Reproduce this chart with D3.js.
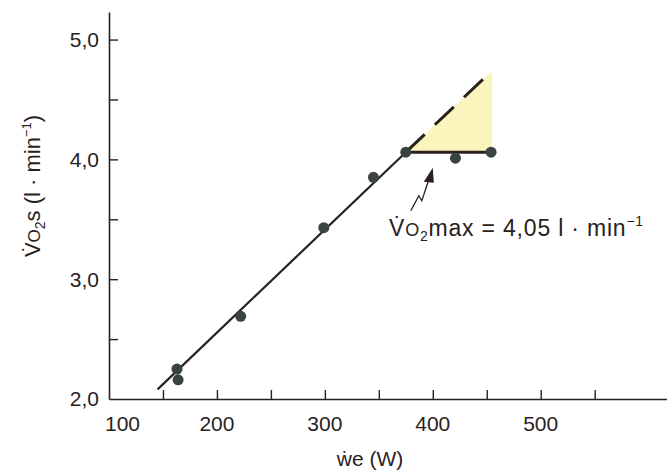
<!DOCTYPE html>
<html>
<head>
<meta charset="utf-8">
<script src="https://cdn.jsdelivr.net/npm/d3@7"></script>
<style>
  body { margin: 0; background: #fff; }
  svg { display: block; font-family: "Liberation Sans", Arial, sans-serif; }
</style>
</head>
<body>
<div id="chart"></div>
<script>
// measured points (work rate W, VO2 l/min)
const workRate = [163, 164, 222, 299, 345, 375, 421, 454];
const vo2 = [2.25, 2.16, 2.69, 3.43, 3.85, 4.06, 4.01, 4.06];

// regression line: solid part, then dashed extrapolation
const fitSolid = [[145, 2.08], [375, 4.06]];
const fitDashed = [[375, 4.06], [455, 4.74]];
const plateau = [[375, 4.06], [454, 4.06]];

const xMajor = [100, 200, 300, 400, 500];
const xTicks = [150, 200, 250, 300, 350, 400, 450, 500, 550];
const yMajor = [2.0, 3.0, 4.0, 5.0];
const yTicks = [2.5, 3.0, 3.5, 4.0, 4.5, 5.0];

const width = 667, height = 476;
const ink = '#2a211d';

const svg = d3.select('#chart').append('svg')
  .attr('width', width).attr('height', height);

const x = d3.scaleLinear().domain([100, 617]).range([109, 667]);
const y = d3.scaleLinear().domain([2, 5.23]).range([399, 12]);

// yellow area between extrapolation and plateau
svg.append('path')
  .attr('d', d3.line().x(d => x(d[0])).y(d => y(d[1]))([
    [375, 4.06], [455, 4.74], [455, 4.06]
  ]))
  .attr('fill', '#f9f5bd');

// axes
svg.append('g')
  .attr('transform', `translate(0,${y(2)})`)
  .call(d3.axisBottom(x).tickValues(xTicks).tickSizeInner(-9).tickSizeOuter(0).tickFormat(''));
svg.append('g')
  .attr('transform', `translate(${x(100)},0)`)
  .call(d3.axisLeft(y).tickValues(yTicks).tickSizeInner(-9).tickSizeOuter(0).tickFormat(''));
svg.selectAll('.domain').attr('stroke', ink).attr('stroke-width', 1.6);
svg.selectAll('.tick line').attr('stroke', ink).attr('stroke-width', 1.4);

// tick labels
svg.append('g').selectAll('text')
  .data(xMajor).join('text')
  .attr('x', d => d === 100 ? x(d) - 4 : x(d))
  .attr('y', 431)
  .attr('text-anchor', d => d === 100 ? 'start' : 'middle')
  .attr('font-size', 21).attr('fill', ink)
  .text(d => d);

svg.append('g').selectAll('text')
  .data(yMajor).join('text')
  .attr('x', 99)
  .attr('y', d => y(d))
  .attr('dy', '0.35em')
  .attr('text-anchor', 'end')
  .attr('font-size', 21).attr('fill', ink)
  .text(d => d.toFixed(1).replace('.', ','));

// axis titles
svg.append('text')
  .attr('x', 370).attr('y', 466)
  .attr('text-anchor', 'middle')
  .attr('font-size', 21).attr('fill', ink)
  .text('w\u0307e (W)');

const yt = svg.append('text')
  .attr('transform', 'translate(40,186) rotate(-90)')
  .attr('text-anchor', 'middle')
  .attr('font-size', 22).attr('fill', ink);
yt.append('tspan').text('V\u0307');
yt.append('tspan').attr('font-size', 17).text('O');
yt.append('tspan').attr('font-size', 14).attr('dy', 5).text('2');
yt.append('tspan').attr('dy', -5).text('s (l · min');
yt.append('tspan').attr('font-size', 13).attr('dy', -9).text('\u22121');
yt.append('tspan').attr('dy', 9).text(')');

// fitted line
const line = d3.line().x(d => x(d[0])).y(d => y(d[1]));
svg.append('path').attr('d', line(fitSolid))
  .attr('fill', 'none').attr('stroke', ink).attr('stroke-width', 2.2);
svg.append('path').attr('d', line(fitDashed))
  .attr('fill', 'none').attr('stroke', ink).attr('stroke-width', 3)
  .attr('stroke-dasharray', '26,14');
svg.append('path').attr('d', line(plateau))
  .attr('fill', 'none').attr('stroke', ink).attr('stroke-width', 3);

// points
svg.append('g').selectAll('circle')
  .data(workRate.map((w, i) => [w, vo2[i]]))
  .join('circle')
  .attr('cx', d => x(d[0])).attr('cy', d => y(d[1]))
  .attr('r', 5.5).attr('fill', '#394340');

// annotation arrow (zigzag) pointing at the plateau
const tipX = x(400), tipY = y(3.93);
svg.append('path')
  .attr('d', `M${tipX - 22},${tipY + 43} L${tipX - 14},${tipY + 28} L${tipX - 11},${tipY + 33} L${tipX - 4},${tipY + 12}`)
  .attr('fill', 'none').attr('stroke', ink).attr('stroke-width', 1.3);
svg.append('path')
  .attr('d', `M${tipX},${tipY} L${tipX - 9},${tipY + 14} L${tipX + 1},${tipY + 15} Z`)
  .attr('fill', ink);

const ann = svg.append('text')
  .attr('x', 389).attr('y', 236)
  .attr('font-size', 23).attr('letter-spacing', 0.8).attr('fill', ink);
ann.append('tspan').text('V\u0307');
ann.append('tspan').attr('font-size', 18).text('O');
ann.append('tspan').attr('font-size', 14).attr('dy', 5).text('2');
ann.append('tspan').attr('dy', -5).text('max = 4,05 l · min');
ann.append('tspan').attr('font-size', 14).attr('dy', -10).text('\u22121');
</script>
</body>
</html>
